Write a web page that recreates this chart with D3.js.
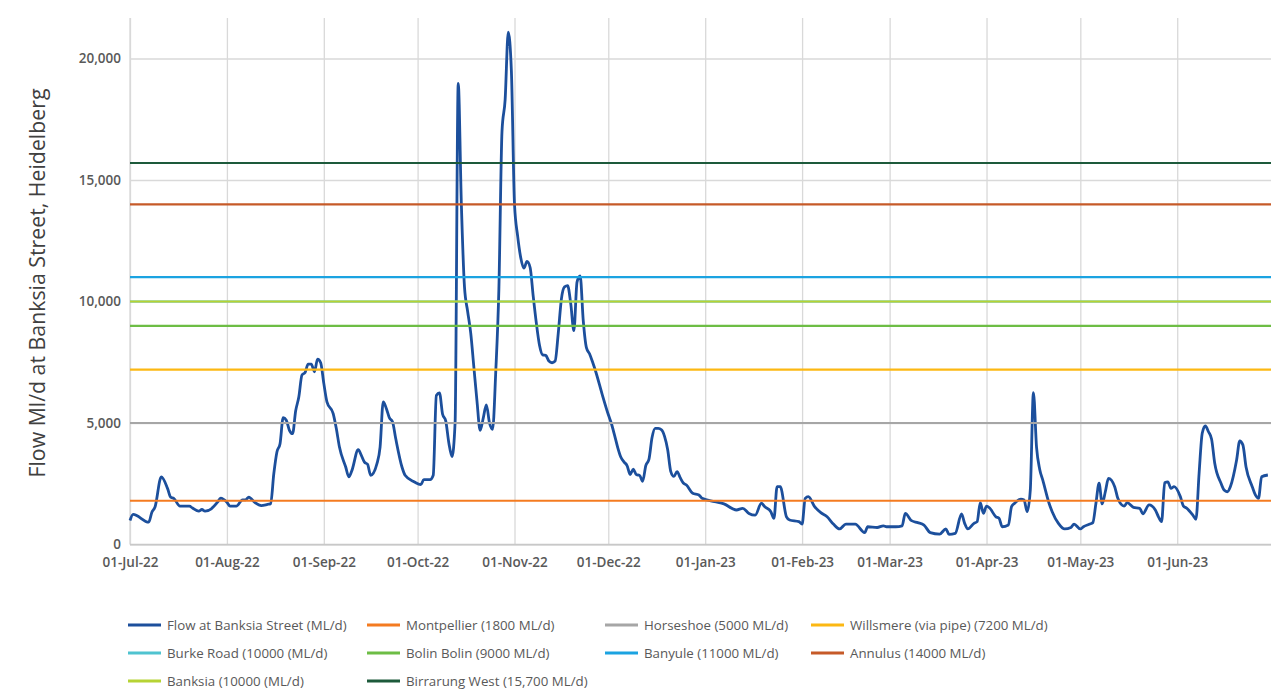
<!DOCTYPE html>
<html><head><meta charset="utf-8">
<script src="https://cdn.jsdelivr.net/npm/d3@7"></script>
<style>
body{margin:0;background:#fff;}
svg text{font-family:"Open Sans","Noto Sans",sans-serif;}
</style></head>
<body><svg id="chart" width="1288" height="691"></svg>
<script>
// ---------------- DATA ----------------
const flowDates = [
"2022-07-01","2022-07-02","2022-07-07","2022-07-08","2022-07-09","2022-07-11","2022-07-13","2022-07-14","2022-07-15","2022-07-17",
"2022-07-20","2022-07-21","2022-07-23","2022-07-24","2022-07-25","2022-07-27","2022-07-29","2022-07-30",
"2022-08-01","2022-08-02","2022-08-04","2022-08-06","2022-08-07","2022-08-08","2022-08-10","2022-08-12","2022-08-14","2022-08-15",
"2022-08-16","2022-08-17","2022-08-18","2022-08-19","2022-08-20","2022-08-21","2022-08-22","2022-08-23","2022-08-24","2022-08-25",
"2022-08-26","2022-08-27","2022-08-28","2022-08-29","2022-08-30","2022-08-31",
"2022-09-01","2022-09-02","2022-09-04","2022-09-05","2022-09-06","2022-09-08","2022-09-09","2022-09-10","2022-09-12","2022-09-13",
"2022-09-14","2022-09-15","2022-09-16","2022-09-18","2022-09-19","2022-09-20","2022-09-21","2022-09-22","2022-09-23","2022-09-24",
"2022-09-26","2022-09-27","2022-09-30",
"2022-10-02","2022-10-03","2022-10-05","2022-10-06","2022-10-07","2022-10-08","2022-10-09","2022-10-10","2022-10-11","2022-10-12",
"2022-10-13","2022-10-14","2022-10-15","2022-10-16","2022-10-17","2022-10-18","2022-10-19","2022-10-20","2022-10-21","2022-10-22",
"2022-10-23","2022-10-24","2022-10-25","2022-10-26","2022-10-27","2022-10-28","2022-10-29","2022-10-30","2022-10-31",
"2022-11-01","2022-11-02","2022-11-03","2022-11-04","2022-11-05","2022-11-06","2022-11-07","2022-11-08","2022-11-09","2022-11-10",
"2022-11-11","2022-11-12","2022-11-13","2022-11-14","2022-11-15","2022-11-16","2022-11-17","2022-11-18","2022-11-19","2022-11-20",
"2022-11-21","2022-11-22","2022-11-23","2022-11-24","2022-11-25","2022-11-26","2022-11-27","2022-11-29",
"2022-12-01","2022-12-02","2022-12-03","2022-12-04","2022-12-05","2022-12-06","2022-12-07","2022-12-08","2022-12-09","2022-12-10",
"2022-12-11","2022-12-12","2022-12-13","2022-12-14","2022-12-15","2022-12-16","2022-12-17","2022-12-18","2022-12-19","2022-12-20",
"2022-12-21","2022-12-22","2022-12-23","2022-12-24","2022-12-25","2022-12-26","2022-12-28","2022-12-30","2022-12-31",
"2023-01-04","2023-01-07","2023-01-11","2023-01-13","2023-01-15","2023-01-17","2023-01-19","2023-01-20","2023-01-22","2023-01-23",
"2023-01-24","2023-01-25","2023-01-27","2023-01-28","2023-01-31",
"2023-02-01","2023-02-02","2023-02-03","2023-02-05","2023-02-07","2023-02-09","2023-02-11","2023-02-13","2023-02-15","2023-02-18",
"2023-02-21","2023-02-22","2023-02-25","2023-02-27","2023-02-28",
"2023-03-03","2023-03-05","2023-03-06","2023-03-08","2023-03-10","2023-03-12","2023-03-14","2023-03-17","2023-03-19","2023-03-20",
"2023-03-22","2023-03-24","2023-03-25","2023-03-26","2023-03-28","2023-03-29","2023-03-30","2023-03-31",
"2023-04-01","2023-04-02","2023-04-04","2023-04-05","2023-04-06","2023-04-08","2023-04-09","2023-04-10","2023-04-12","2023-04-13",
"2023-04-14","2023-04-15","2023-04-16","2023-04-17","2023-04-18","2023-04-19","2023-04-21","2023-04-22","2023-04-24","2023-04-26",
"2023-04-28","2023-04-29",
"2023-05-01","2023-05-02","2023-05-04","2023-05-05","2023-05-06","2023-05-07","2023-05-08","2023-05-09","2023-05-10","2023-05-12",
"2023-05-13","2023-05-15","2023-05-16","2023-05-18","2023-05-20","2023-05-21","2023-05-23","2023-05-25","2023-05-26","2023-05-27",
"2023-05-28","2023-05-29","2023-05-30","2023-05-31",
"2023-06-02","2023-06-03","2023-06-04","2023-06-06","2023-06-07","2023-06-08","2023-06-09","2023-06-10","2023-06-11","2023-06-12",
"2023-06-13","2023-06-15","2023-06-16","2023-06-17","2023-06-18","2023-06-20","2023-06-21","2023-06-22","2023-06-23","2023-06-25",
"2023-06-26","2023-06-27","2023-06-28","2023-06-30"
];
const flowValues = [
990,1240,920,1330,1540,2780,2310,1950,1900,1580,
1580,1500,1370,1440,1370,1470,1740,1910,
1740,1580,1580,1840,1840,1950,1720,1600,1650,1680,
2910,3810,4150,5220,5110,4700,4560,5500,6070,6970,
7080,7420,7420,7110,7630,7480,
6630,5870,5390,4770,4010,3190,2780,3050,3900,3670,
3390,3300,2850,3330,4010,5870,5600,5210,5040,4360,
3190,2850,2570,
2460,2670,2670,2850,6130,6240,5360,5090,4180,3620,
5020,18980,14000,10600,9600,8700,7300,5900,4700,5200,
5750,5000,4740,7100,10500,17000,18300,21080,19500,
14000,12700,11800,11370,11650,11400,10200,9100,8200,7800,
7780,7550,7480,7550,8700,10100,10600,10650,9900,8800,
10800,11050,9200,8100,7850,7500,7110,6200,
5350,4980,4500,4000,3600,3400,3250,2880,3100,2870,
2850,2600,3250,3500,4400,4780,4780,4720,4450,3900,
3000,2800,3000,2750,2530,2450,2110,2040,1900,
1760,1670,1420,1490,1280,1210,1700,1560,1350,1080,
2380,2380,1140,1010,940,
840,1900,1970,1560,1310,1140,840,640,840,840,
490,730,700,770,730,
730,770,1280,980,900,800,490,430,640,420,
460,1260,870,640,870,940,1720,1280,
1580,1500,1140,1080,730,800,1560,1700,1870,1830,
1350,2240,6250,4000,3100,2650,1700,1350,870,640,
700,840,
640,730,840,900,1700,2520,1670,2170,2720,2380,
1900,1580,1720,1530,1490,1260,1630,1420,1140,940,
2540,2580,2310,2380,
1970,1580,1500,1210,1040,2930,4580,4880,4640,4330,
3340,2520,2240,2170,2380,3480,4260,4100,3200,2380,
2040,1900,2790,2860
];
const flowName = "Flow at Banksia Street (ML/d)";

const thresholdNames = [
  "Montpellier (1800 ML/d)", "Horseshoe (5000 ML/d)", "Willsmere (via pipe) (7200 ML/d)",
  "Burke Road (10000 (ML/d)", "Bolin Bolin (9000 ML/d)", "Banyule (11000 ML/d)",
  "Annulus (14000 ML/d)", "Banksia (10000 (ML/d)", "Birrarung West (15,700 ML/d)"
];
const thresholdValues = [1800, 5000, 7200, 10000, 9000, 11000, 14000, 10000, 15700];

const yTickValues = [0, 5000, 10000, 15000, 20000];
const xTickDates = ["2022-07-01","2022-08-01","2022-09-01","2022-10-01","2022-11-01","2022-12-01",
                    "2023-01-01","2023-02-01","2023-03-01","2023-04-01","2023-05-01","2023-06-01"];
const xDomain = ["2022-07-01", "2023-07-01"];
const yAxisTitle = "Flow Ml/d at Banksia Street, Heidelberg";

// ---------------- STYLE ----------------
const flowColor = "#1c4f9c";
const thresholdColors = ["#f47b20","#a6a6a6","#fcb813","#4fc3d0","#6dbd45","#1ba3e1","#c65a28","#b6d334","#1d5a3b"];

// ---------------- CHART ----------------
(function () {
const parse = d3.timeParse("%Y-%m-%d");
const svg = d3.select("#chart");
const pL = 130, pR = 1271, pT = 18, pB = 544.5;

const x = d3.scaleTime().domain(xDomain.map(parse)).range([pL, pR]);
const y = d3.scaleLinear().domain([0, 20000]).range([pB, 58.5]);

const gridColor = "#d9d9d9";
const xTicks = xTickDates.map(parse);
// vertical gridlines
svg.append("g").attr("transform", `translate(0,${pB})`)
  .call(d3.axisBottom(x).tickValues(xTicks).tickSize(-(pB - pT)).tickFormat(""))
  .call(g => g.select(".domain").remove())
  .call(g => g.selectAll("line").attr("stroke", gridColor).attr("stroke-width", 1.3));
// horizontal gridlines
svg.append("g").attr("transform", `translate(${pL},0)`)
  .call(d3.axisLeft(y).tickValues(yTickValues).tickSize(-(pR - pL)).tickFormat(""))
  .call(g => g.select(".domain").remove())
  .call(g => g.selectAll("line").attr("stroke", gridColor).attr("stroke-width", 1.3));
// axis lines
svg.append("line").attr("x1", pL).attr("x2", pL).attr("y1", pT).attr("y2", pB)
  .attr("stroke", gridColor).attr("stroke-width", 1.3);
svg.append("line").attr("x1", pL).attr("x2", pR).attr("y1", pB).attr("y2", pB)
  .attr("stroke", "#c8c8c8").attr("stroke-width", 1.5);

// x labels
svg.append("g").attr("transform", `translate(0,${pB})`)
  .call(d3.axisBottom(x).tickValues(xTicks).tickSize(0).tickPadding(13).tickFormat(d3.timeFormat("%d-%b-%y")))
  .call(g => g.select(".domain").remove())
  .call(g => g.selectAll("text").attr("fill", "#595959").style("font-size", "13.5px").style("font-weight", 600));
// y labels
svg.append("g").attr("transform", `translate(${pL},0)`)
  .call(d3.axisLeft(y).tickValues(yTickValues).tickSize(0).tickPadding(9).tickFormat(d3.format(",")))
  .call(g => g.select(".domain").remove())
  .call(g => g.selectAll("text").attr("fill", "#595959").style("font-size", "13.5px").style("font-weight", 600));

// y title
svg.append("text")
  .attr("transform", `translate(45,283) rotate(-90)`)
  .attr("text-anchor", "middle")
  .attr("fill", "#404040")
  .style("font-size", "21.3px")
  .text(yAxisTitle);

// flow line
const flowData = flowDates.map((d, i) => ({date: parse(d), value: flowValues[i]}));
const line = d3.line().x(d => x(d.date)).y(d => y(d.value)).curve(d3.curveMonotoneX);
svg.append("path").datum(flowData)
  .attr("d", line).attr("fill", "none")
  .attr("stroke", flowColor).attr("stroke-width", 2.8).attr("stroke-linejoin", "round");

// threshold lines
const thrData = thresholdNames.map((n, i) => ({name: n, value: thresholdValues[i], color: thresholdColors[i]}));
const hline = d3.line().x(d => x(d[0])).y(d => y(d[1]));
svg.append("g").selectAll("path").data(thrData).join("path")
  .attr("d", d => hline([[x.domain()[0], d.value], [x.domain()[1], d.value]]))
  .attr("stroke", d => d.color).attr("stroke-width", 2.2).attr("fill", "none");

// legend
const legendItems = [{name: flowName, color: flowColor}].concat(thrData.map(d => ({name: d.name, color: d.color})));
const colX = [128, 367, 605, 811];
const rowY = [625, 653, 681];
const lg = svg.append("g").selectAll("g").data(legendItems).join("g")
  .attr("transform", (d, i) => `translate(${colX[i % 4]},${rowY[Math.floor(i / 4)]})`);
lg.append("line").attr("x1", 0).attr("x2", 33).attr("y1", 0).attr("y2", 0)
  .attr("stroke", d => d.color).attr("stroke-width", 3);
lg.append("text").attr("x", 39).attr("y", 0).attr("dy", "0.35em")
  .attr("fill", "#595959").style("font-size", "13.3px").text(d => d.name);
})();
</script></body></html>
